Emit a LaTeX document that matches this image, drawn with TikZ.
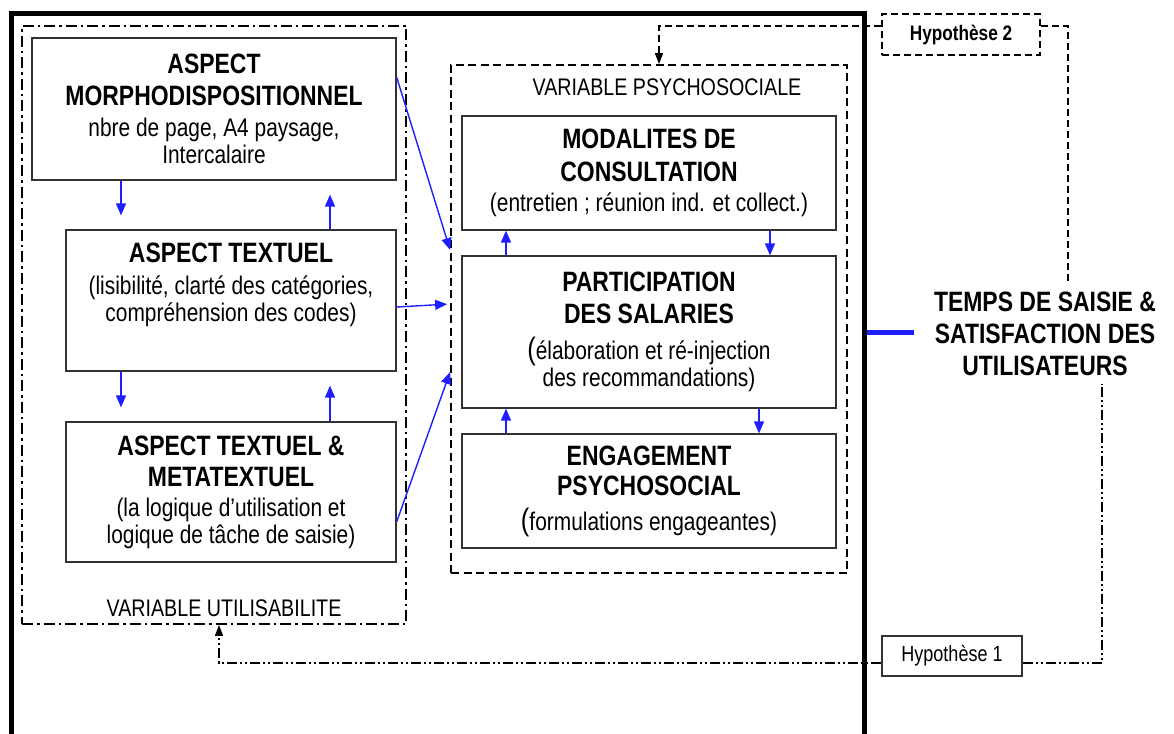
\documentclass[tikz,border=0pt]{standalone}
\usepackage{fontspec}
\setmainfont{Liberation Sans}[FakeStretch=0.82]
\usetikzlibrary{arrows.meta}

\definecolor{linkblue}{RGB}{30,30,255}
\newcommand{\boxtitle}{\bfseries\fontsize{28}{32}\selectfont}
\newcommand{\boxnote}{\fontsize{25.5}{27}\selectfont}
\newcommand{\grouplabel}{\fontsize{24}{26}\selectfont}
\newcommand{\hyplabel}{\fontsize{22}{24}\selectfont}
\newcommand{\bigparen}[1]{{\fontsize{31}{27}\selectfont #1}}

\begin{document}
\begin{tikzpicture}[x=1pt,y=-1pt,
	box/.style={draw=black!80,line width=1.2pt,inner sep=0pt,align=center,font=\boxnote},
	blink/.style={linkblue,line width=1.4pt,-{Triangle[length=12pt,width=10pt]}},
	hyparrow/.style={line width=1.6pt,-{Triangle[length=11pt,width=8pt]}},
	dashline/.style={line width=1.6pt,dash pattern=on 7pt off 4pt},
	dashdotdot/.style={line width=1.6pt,dash pattern=on 10pt off 3pt on 2pt off 3pt on 2pt off 3pt}]
	\useasboundingbox (0,0) rectangle (1174,733);
	\clip (0,0) rectangle (1174,733);
	\draw [line width=5pt] (11.5,760) |- (864,14) -- (864,760);
	\begin{scope}[every node/.style={draw,line width=1.8pt,inner sep=0pt}]
	\node [dash pattern=on 11pt off 4pt on 2.5pt off 4pt,minimum width=384,minimum height=598] (utilis) at (214,325) {};
	\node [dash pattern=on 8pt off 4.5pt,minimum width=396,minimum height=508] (psy) at (649,319) {};
	\end{scope}
	\node [font=\grouplabel] (psylabel) at (667,87) {VARIABLE PSYCHOSOCIALE};
	\node [font=\grouplabel] (utilislabel) at (224,608) {VARIABLE UTILISABILITE};
	\begin{scope}[every node/.style={box}]
	\node [minimum width=364,minimum height=142] (morpho) at (214,109) {{\boxtitle ASPECT}\\[5pt]{\boxtitle MORPHODISPOSITIONNEL}\\[4pt]nbre de page, A4 paysage,\\Intercalaire};
	\node [minimum width=330,minimum height=141] (textuel) at (231,300.5) {{\boxtitle ASPECT TEXTUEL}\\[5pt](lisibilité, clarté des catégories,\\compréhension des codes)\\[10pt]{}};
	\node [minimum width=330,minimum height=140] (meta) at (231,492) {{\boxtitle ASPECT TEXTUEL \&}\\[4pt]{\boxtitle METATEXTUEL}\\[3pt](la logique d’utilisation et\\logique de tâche de saisie)};
	\node [minimum width=374,minimum height=114] (modal) at (649,173) {{\boxtitle MODALITES DE}\\[6pt]{\boxtitle CONSULTATION}\\[3pt](entretien ; réunion ind. et collect.)};
	\node [minimum width=374,minimum height=152] (partic) at (649,332) {{\boxtitle PARTICIPATION}\\[5pt]{\boxtitle DES SALARIES}\\[9pt]\bigparen{(}élaboration et ré-injection\\des recommandations)};
	\node [minimum width=374,minimum height=114] (engag) at (649,491) {{\boxtitle ENGAGEMENT}\\[3pt]{\boxtitle PSYCHOSOCIAL}\\[8pt]\bigparen{(}formulations engageantes)};
	\end{scope}
	\node [font=\boxtitle,align=center,inner xsep=0pt,inner ysep=8pt] (temps) at (1045,333.5) {TEMPS DE SAISIE \&\\SATISFACTION DES\\UTILISATEURS};
	\node [draw,dashline,inner sep=0pt,minimum width=158,minimum height=41,font=\fontsize{21}{24}\selectfont\bfseries] (hyp2) at (961,34.5) {Hypothèse 2};
	\node [draw=black!80,line width=1.2pt,inner sep=0pt,minimum width=140,minimum height=40,font=\hyplabel] (hyp1) at (952,656) {Hypothèse 1};
	\coordinate (colA) at (121,0);
	\coordinate (colB) at (330,0);
	\coordinate (colC) at (506,0);
	\coordinate (colD) at (770,0);
	\coordinate (colE) at (759,0);
	\coordinate (frameR) at (866.5,332);
	\draw [blink,shorten >=14pt] (morpho.south -| colA) -- (textuel.north -| colA);
	\draw [blink,shorten >=14pt] (textuel.north -| colB) -- (morpho.south -| colB);
	\draw [blink,shorten >=14pt] (textuel.south -| colA) -- (meta.north -| colA);
	\draw [blink,shorten >=14pt] (meta.north -| colB) -- (textuel.south -| colB);
	\draw [blink] (partic.north -| colC) -- (modal.south -| colC);
	\draw [blink] (modal.south -| colD) -- (partic.north -| colD);
	\draw [blink] (engag.north -| colC) -- (partic.south -| colC);
	\draw [blink] (partic.south -| colE) -- (engag.north -| colE);
	\draw [blink] ([yshift=32pt]morpho.east) -- ([yshift=69pt]psy.west);
	\draw [blink,shorten >=3pt] ([yshift=-6.5pt]textuel.east) -- ([yshift=15pt]psy.west);
	\draw [blink] ([yshift=-30pt]meta.east) -- ([yshift=-53pt]psy.west);
	\draw [linkblue,line width=5pt,shorten >=20pt] (frameR) -- (temps.west |- frameR);
	\draw [hyparrow,dashline] ([yshift=8.5pt]hyp2.west) -| ([xshift=10pt]psy.north);
	\draw [dashline] ([yshift=8.5pt]hyp2.east) -| ([xshift=23pt]temps.north);
	\draw [hyparrow,dashdotdot] ([yshift=-7pt]hyp1.west) -| ([xshift=5pt]utilis.south);
	\draw [dashdotdot] ([yshift=-7pt]hyp1.east) -| ([xshift=57pt]temps.south);
\end{tikzpicture}
\end{document}
